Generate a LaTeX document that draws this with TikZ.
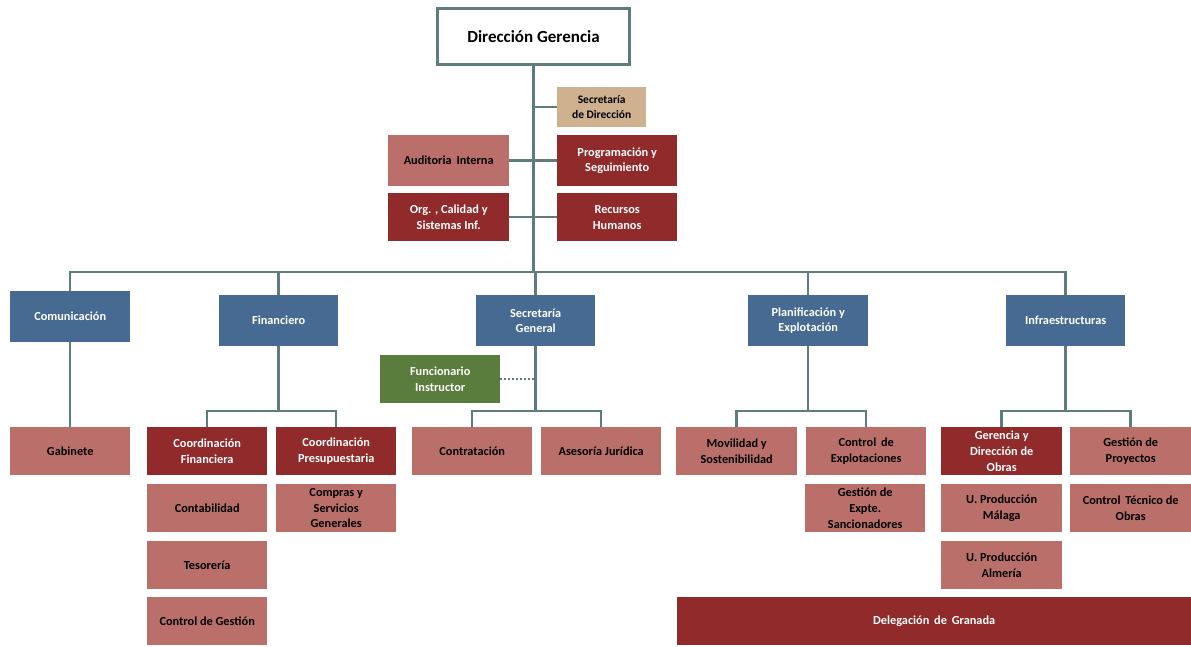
\documentclass[tikz,border=0pt]{standalone}
\usepackage{fontspec}
\setmainfont{Carlito}
\definecolor{lnc}{HTML}{5F7C7D}
\definecolor{cblue}{HTML}{466A91}
\definecolor{cdred}{HTML}{912A2A}
\definecolor{clred}{HTML}{BA6F6B}
\definecolor{cgreen}{HTML}{5A7D3E}
\definecolor{ctan}{HTML}{CFB08F}
\tikzset{
  bx/.style={draw=none, inner sep=1pt, align=center, anchor=north west,
    font=\bfseries\fontsize{12.3}{15.8}\selectfont},
  bbox/.style={bx, fill=cblue, text=white},
  drbox/.style={bx, fill=cdred, text=white},
  lrbox/.style={bx, fill=clred, text=black},
  gbox/.style={bx, fill=cgreen, text=white},
  tbox/.style={bx, fill=ctan, text=black},
  ln/.style={draw=lnc, line width=2.5pt},
  dln/.style={draw=lnc, line width=2pt, dotted},
  s/.style={minimum width=120pt, minimum height=48pt},
  m/.style={minimum width=120pt, minimum height=51pt}
}
\begin{document}
\begin{tikzpicture}[x=1pt,y=-1pt]
\useasboundingbox (0,0) rectangle (1191,646);
% top
\node[bx, draw=lnc, line width=3pt, fill=white, minimum width=192pt, minimum height=56pt,
  font=\bfseries\fontsize{17}{20}\selectfont] (dg) at (436,7) {Dirección Gerencia};
\node[tbox, minimum width=89pt, minimum height=40pt, font=\bfseries\fontsize{11.5}{15.5}\selectfont] (sd) at (557,87) {Secretaría\\de Dirección};
\node[lrbox, minimum width=121pt, minimum height=51pt] (ai) at (388,135) {Auditoria\, Interna};
\node[drbox, minimum width=120pt, minimum height=51pt] (pys) at (557,135) {Programación y\\Seguimiento};
\node[drbox, minimum width=121pt, minimum height=48pt] (org) at (388,193) {Org. , Calidad y\\Sistemas Inf.};
\node[drbox, minimum width=120pt, minimum height=48pt] (rh) at (557,193) {Recursos\\Humanos};
% level 2
\node[bbox, minimum width=120pt, minimum height=51pt] (com) at (10,291) {Comunicación};
\node[bbox, m, minimum width=119pt] (fin) at (219,295) {Financiero};
\node[bbox, m, minimum width=119pt] (sg) at (476,295) {Secretaría\\General};
\node[bbox, m] (pla) at (748,295) {Planificación y\\Explotación};
\node[bbox, m, minimum width=119pt] (inf) at (1006,295) {Infraestructuras};
\node[gbox, s] (fi) at (380,355) {Funcionario\\Instructor};
% level 3
\node[lrbox, s] (gab) at (10,427) {Gabinete};
\node[drbox, s] (cf) at (147,427) {Coordinación\\Financiera};
\node[drbox, s] (cp) at (276,427) {Coordinación\\Presupuestaria};
\node[lrbox, s] (con) at (147,484) {Contabilidad};
\node[lrbox, s] (csg) at (276,484) {Compras y\\Servicios\\Generales};
\node[lrbox, s] (tes) at (147,541) {Tesorería};
\node[lrbox, s] (cg) at (147,597) {Control de Gestión};
\node[lrbox, s] (ctr) at (412,427) {Contratación};
\node[lrbox, s] (aj) at (541,427) {Asesoría Jurídica};
\node[lrbox, s, minimum width=121pt] (mov) at (676,427) {Movilidad y\\Sostenibilidad};
\node[lrbox, s] (cex) at (806,427) {Control\, de\\Explotaciones};
\node[lrbox, s] (ges) at (805,484) {Gestión de\\Expte.\\Sancionadores};
\node[drbox, s, minimum width=121pt] (gdo) at (941,427) {Gerencia y\\Dirección de\\Obras};
\node[lrbox, s, minimum width=121pt] (gp) at (1070,427) {Gestión de\\Proyectos};
\node[lrbox, s, minimum width=121pt] (upm) at (941,484) {U. Producción\\Málaga};
\node[lrbox, s, minimum width=121pt] (cto) at (1070,484) {Control\, Técnico de\\Obras};
\node[lrbox, s, minimum width=121pt] (upa) at (941,541) {U. Producción\\Almería};
\node[drbox, minimum width=514pt, minimum height=48pt] (dgr) at (677,597) {Delegación\, de\, Granada};
% connectors
\coordinate (bus) at (0,272);
\coordinate (sub) at (0,411);
\draw[ln] (dg.south) -- (dg.south |- bus);
\draw[ln] (sd.west) -- (sd.west -| dg.south);
\draw[ln] (ai.east) -- (pys.west);
\draw[ln] (org.east) -- (rh.west);
\draw[ln] (com.north) -- (com.north |- bus) -- (inf.north |- bus) -- (inf.north);
\draw[ln] (fin.north) -- (fin.north |- bus);
\draw[ln] (sg.north) -- (sg.north |- bus);
\draw[ln] (pla.north) -- (pla.north |- bus);
\draw[ln] (com.south) -- (gab.north);
\draw[ln] (fin.south) -- (fin.south |- sub);
\draw[ln] (cf.north) -- (cf.north |- sub) -- (cp.north |- sub) -- (cp.north);
\draw[ln] (sg.south) -- (sg.south |- sub);
\draw[ln] (ctr.north) -- (ctr.north |- sub) -- (aj.north |- sub) -- (aj.north);
\draw[dln] (fi.east) -- (fi.east -| sg.south);
\draw[ln] (pla.south) -- (pla.south |- sub);
\draw[ln] (mov.north) -- (mov.north |- sub) -- (cex.north |- sub) -- (cex.north);
\draw[ln] (inf.south) -- (inf.south |- sub);
\draw[ln] (gdo.north) -- (gdo.north |- sub) -- (gp.north |- sub) -- (gp.north);
\end{tikzpicture}
\end{document}
